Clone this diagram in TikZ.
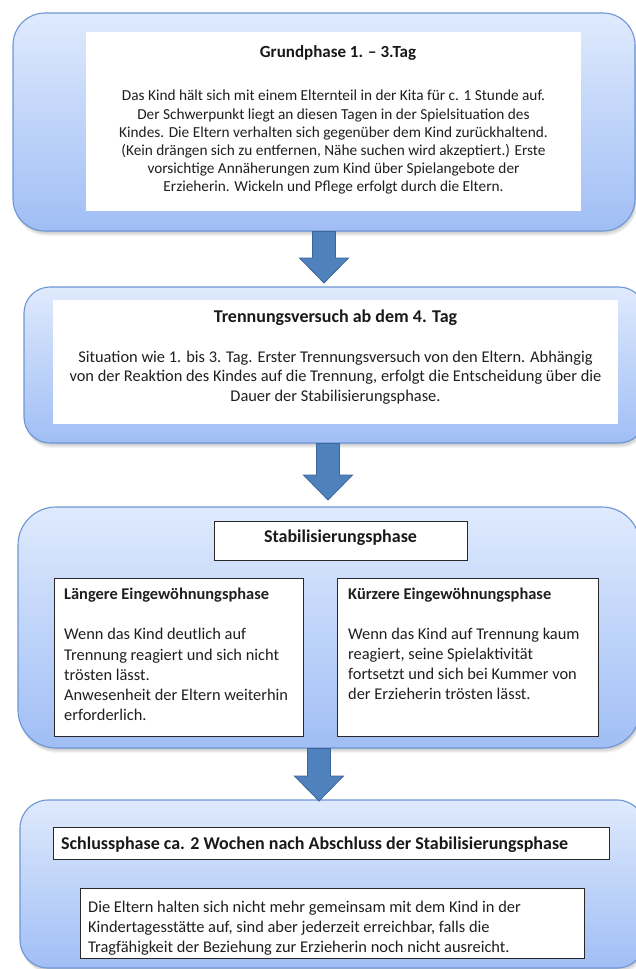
\documentclass[tikz,border=0pt]{standalone}
\usepackage{fontspec}
\setmainfont{Carlito}
\usetikzlibrary{calc}
\definecolor{boxtop}{RGB}{223,234,253}
\definecolor{boxbot}{RGB}{160,190,245}
\definecolor{boxline}{RGB}{108,150,212}
\definecolor{arrowfill}{RGB}{79,129,189}
\definecolor{arrowline}{RGB}{60,102,154}
\definecolor{framecol}{RGB}{40,40,40}
\newcommand\boxshadow[5]{\foreach \s in {1,...,5}{\fill[black,opacity=0.045,rounded corners=#5] (#1+0.4*\s,#2+\s) rectangle (#3+0.4*\s,#4+\s);}}
\newcommand\bigdownarrow[2]{\draw[bigarrow] ($(#1)+(-11.5,0)$) -- ($(#2)+(-11.5,-25)$) -- ($(#2)+(-24.5,-25)$) -- (#2) -- ($(#2)+(24.5,-25)$) -- ($(#2)+(11.5,-25)$) -- ($(#1)+(11.5,0)$) -- cycle;}
\begin{document}
\begin{tikzpicture}[x=1pt,y=-1pt,
  outerbox/.style={draw=boxline, line width=1.1pt, top color=boxtop, bottom color=boxbot, inner sep=0pt},
  whitebox/.style={fill=white, inner sep=0pt},
  framebox/.style={fill=white, draw=framecol, line width=1pt, inner sep=0pt},
  bodytext/.style={font=\fontsize{16.4}{20}\selectfont, inner sep=0pt, text=black!88},
  titletext/.style={font=\fontsize{18}{21}\selectfont\bfseries, inner sep=0pt, text=black!90},
  bigarrow/.style={fill=arrowfill, draw=arrowline, line width=0.8pt, line join=miter}]
\useasboundingbox (0,0) rectangle (636,969);
\clip (0,0) rectangle (636,969);
\fill[white] (0,0) rectangle (636,969);
% shadows
\boxshadow{13}{13}{635}{231}{32pt}
\boxshadow{24}{287}{645}{443}{26pt}
\boxshadow{18}{507}{640}{748}{38pt}
\boxshadow{20}{800}{645}{968}{28pt}
% outer boxes
\node[outerbox, rounded corners=32pt, minimum width=622pt, minimum height=218pt] (b1) at (324,122) {};
\node[outerbox, rounded corners=26pt, minimum width=621pt, minimum height=156pt] (b2) at (334.5,365) {};
\node[outerbox, rounded corners=38pt, minimum width=622pt, minimum height=241pt] (b3) at (329,627.5) {};
\node[outerbox, rounded corners=28pt, minimum width=625pt, minimum height=168pt] (b4) at (332.5,884) {};
% inner boxes
\node[whitebox, minimum width=495pt, minimum height=179pt] (w1) at (333.5,121.5) {};
\node[whitebox, minimum width=565pt, minimum height=124pt] (w2) at (335.5,362) {};
\node[framebox, minimum width=253pt, minimum height=39pt] (s3) at (340.5,540.5) {};
\node[framebox, minimum width=249pt, minimum height=158pt] (l3) at (178.5,657) {};
\node[framebox, minimum width=261pt, minimum height=158pt] (r3) at (467.5,657) {};
\node[framebox, minimum width=556pt, minimum height=32pt] (t4) at (331,843) {};
\node[framebox, minimum width=504pt, minimum height=70pt] (d4) at (332,923) {};
% texts
\node[titletext, font=\fontsize{17}{20}\selectfont\bfseries] (t1) at (338,53) {Grundphase 1. – 3.Tag};
\node[bodytext, align=center, font=\fontsize{15.3}{18.2}\selectfont] (x1) at (333.5,142.5) {Das Kind hält sich mit einem Elternteil in der Kita für c. 1 Stunde auf.\\
Der Schwerpunkt liegt an diesen Tagen in der Spielsituation des\\
Kindes. Die Eltern verhalten sich gegenüber dem Kind zurückhaltend.\\
(Kein drängen sich zu entfernen, Nähe suchen wird akzeptiert.) Erste\\
vorsichtige Annäherungen zum Kind über Spielangebote der\\
Erzieherin. Wickeln und Pflege erfolgt durch die Eltern.};
\node[titletext] (t2) at (335.5,318) {Trennungsversuch ab dem 4. Tag};
\node[bodytext, align=center, font=\fontsize{16.4}{19.5}\selectfont] (x2) at (335.5,377.5) {Situation wie 1. bis 3. Tag. Erster Trennungsversuch von den Eltern. Abhängig\\
von der Reaktion des Kindes auf die Trennung, erfolgt die Entscheidung über die\\
Dauer der Stabilisierungsphase.};
\node[titletext] (t3) at (340.5,538) {Stabilisierungsphase};
\node[bodytext, align=left, anchor=west, font=\fontsize{16.4}{20.2}\selectfont] (x3l) at (64,654.5) {\textbf{Längere Eingewöhnungsphase}\\\mbox{}\\
Wenn das Kind deutlich auf\\
Trennung reagiert und sich nicht\\
trösten lässt.\\
Anwesenheit der Eltern weiterhin\\
erforderlich.};
\node[bodytext, align=left, anchor=west, font=\fontsize{16.4}{20}\selectfont] (x3r) at (348,644) {\textbf{Kürzere Eingewöhnungsphase}\\\mbox{}\\
Wenn das Kind auf Trennung kaum\\
reagiert, seine Spielaktivität\\
fortsetzt und sich bei Kummer von\\
der Erzieherin trösten lässt.};
\node[titletext, anchor=west] (t4t) at (61,845) {Schlussphase ca. 2 Wochen nach Abschluss der Stabilisierungsphase};
\node[bodytext, align=left, anchor=west] (x4) at (88,928) {Die Eltern halten sich nicht mehr gemeinsam mit dem Kind in der\\
Kindertagesstätte auf, sind aber jederzeit erreichbar, falls die\\
Tragfähigkeit der Beziehung zur Erzieherin noch nicht ausreicht.};
% arrows
\coordinate (a1s) at (b1.south -| 324,0);
\coordinate (a1t) at (324,283);
\coordinate (a2s) at (b2.south -| 328,0);
\coordinate (a2t) at (328,500);
\coordinate (a3s) at (b3.south -| 319,0);
\coordinate (a3t) at (319,801);
\bigdownarrow{a1s}{a1t}
\bigdownarrow{a2s}{a2t}
\bigdownarrow{a3s}{a3t}
\end{tikzpicture}
\end{document}
